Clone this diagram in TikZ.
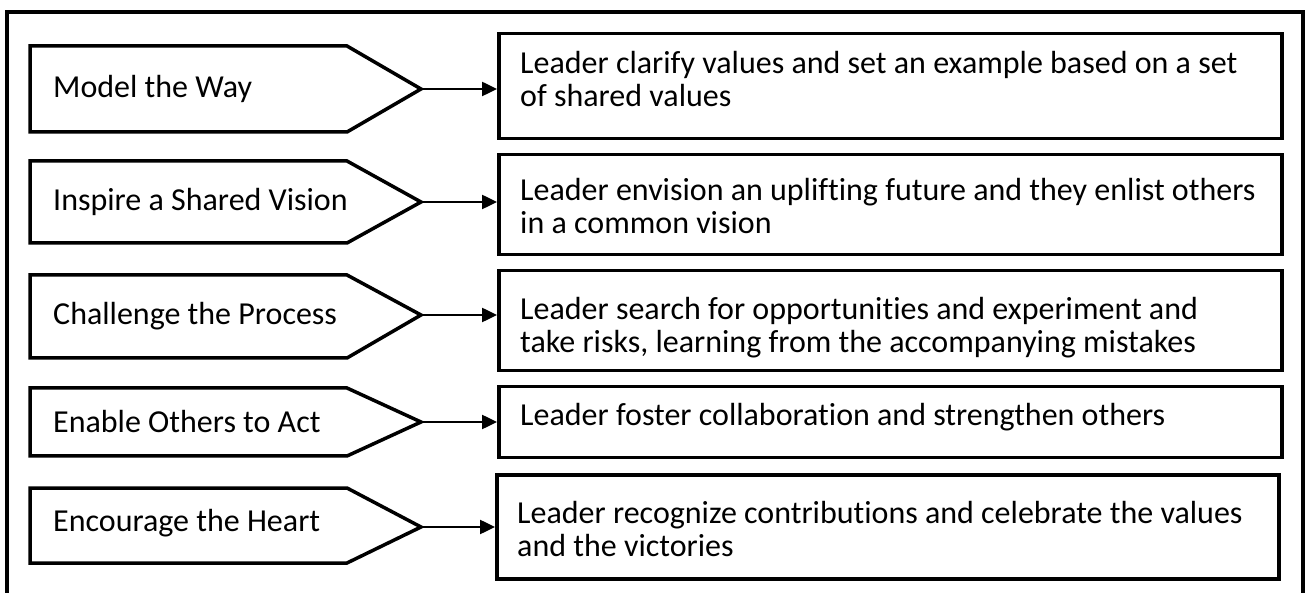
\documentclass[tikz,border=0pt]{standalone}
\usepackage{fontspec}
\setmainfont[Ligatures=NoCommon]{Carlito}
\usetikzlibrary{arrows.meta,calc}
\begin{document}
\begin{tikzpicture}[x=1pt,y=-1pt,
  frame/.style={line width=3.5pt},
  pent/.style={line width=3.5pt, line join=miter},
  box/.style={draw, line width=3.5pt, anchor=north west, inner sep=0pt},
  lbl/.style={anchor=west, inner sep=0pt, font=\fontsize{32}{33}\selectfont},
  txt/.style={anchor=base west, inner sep=0pt, align=left, font=\fontsize{32}{33}\selectfont},
  conn/.style={line width=2.5pt, -{Triangle[length=15pt,width=14pt]}}]
\useasboundingbox (0,0) rectangle (1307,593);
\fill[white] (0,0) rectangle (1307,593);
\draw[frame] (7,593) -- (7,12) -- (1303,12) -- (1303,593);

% left pentagons
\draw[pent] (30,46) -- (347,46) -- (421,89) -- (347,132) -- (30,132) -- cycle;
\coordinate (tip1) at (421,89);
\node[lbl] (p1) at (53,89) {Model the Way};

\draw[pent] (30,161) -- (347,161) -- (421,202) -- (347,243) -- (30,243) -- cycle;
\coordinate (tip2) at (421,202);
\node[lbl] (p2) at (53,202) {Inspire a Shared Vision};

\draw[pent] (30,275) -- (347,275) -- (421,315) -- (347,358) -- (30,358) -- cycle;
\coordinate (tip3) at (421,315);
\node[lbl] (p3) at (53,316) {Challenge the Process};

\draw[pent] (30,388) -- (347,388) -- (421,422) -- (347,456) -- (30,456) -- cycle;
\coordinate (tip4) at (421,422);
\node[lbl] (p4) at (53,422) {Enable Others to Act};

\draw[pent] (30,488) -- (347,488) -- (421,527) -- (347,563) -- (30,563) -- cycle;
\coordinate (tip5) at (421,527);
\node[lbl] (p5) at (53,523) {Encourage the Heart};

% right boxes
\node[box, minimum width=783pt, minimum height=105pt] (b1) at (497,32) {};
\node[txt] (t1) at (520,107) {Leader clarify values and set an example based on a set\\of shared values};

\node[box, minimum width=783pt, minimum height=100pt] (b2) at (497,153) {};
\node[txt] (t2) at (520,234) {Leader envision an uplifting future and they enlist others\\in a common vision};

\node[box, minimum width=783pt, minimum height=100pt] (b3) at (497,269) {};
\node[txt] (t3) at (520,353) {Leader search for opportunities and experiment and\\take risks, learning from the accompanying mistakes};

\node[box, minimum width=783pt, minimum height=71pt] (b4) at (497,385) {};
\node[txt] (t4) at (520,426) {Leader foster collaboration and strengthen others};

\node[box, minimum width=782pt, minimum height=104pt] (b5) at (495,473) {};
\node[txt] (t5) at (517,556) {Leader recognize contributions and celebrate the values\\and the victories};

% connectors
\draw[conn] (tip1) -- (tip1 -| b1.west);
\draw[conn] (tip2) -- (tip2 -| b2.west);
\draw[conn] (tip3) -- (tip3 -| b3.west);
\draw[conn] (tip4) -- (tip4 -| b4.west);
\draw[conn] (tip5) -- (tip5 -| b5.west);
\end{tikzpicture}
\end{document}
